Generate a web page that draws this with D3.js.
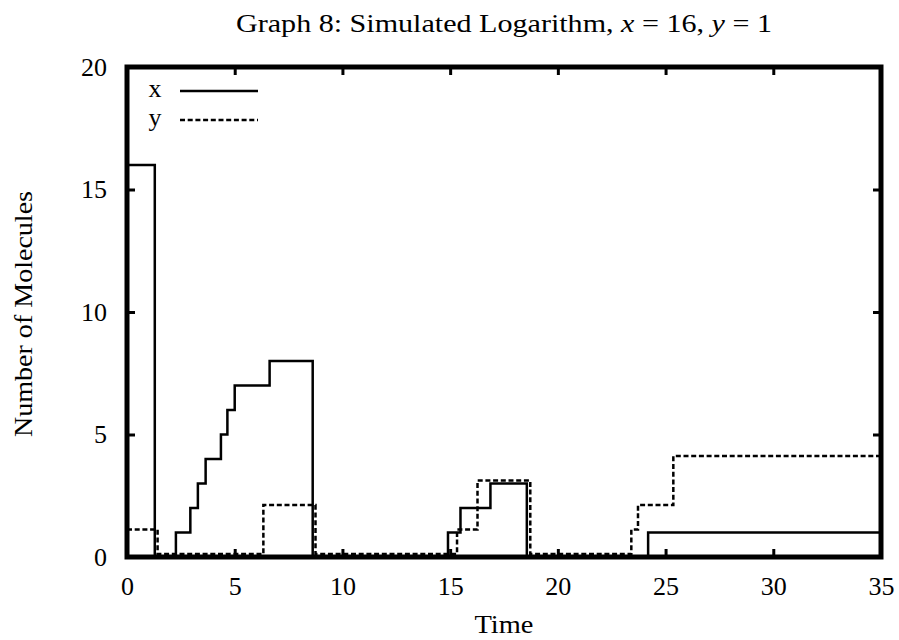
<!DOCTYPE html>
<html>
<head>
<meta charset="utf-8">
<script src="https://cdn.jsdelivr.net/npm/d3@7"></script>
<style>
  body { margin: 0; background: #fff; }
  svg text { font-family: "Liberation Serif", "DejaVu Serif", serif; fill: #000; }
</style>
</head>
<body>
<div id="chart"></div>
<script>
// step data: time at which each count starts
const xTimes = [0, 1.29, 2.27, 2.94, 3.29, 3.65, 4.36, 4.66, 5.0, 6.62, 8.62, 14.9, 15.48, 16.87, 18.56, 24.19, 35];
const xCounts = [16, 0, 1, 2, 3, 4, 5, 6, 7, 8, 0, 1, 2, 3, 0, 1, 1];

const yTimes = [0, 1.42, 6.33, 8.75, 15.32, 16.27, 18.72, 23.41, 23.72, 25.36, 35];
const yCounts = [1, 0, 2, 0, 1, 3, 0, 1, 2, 4, 4];

const xTicks = [0, 5, 10, 15, 20, 25, 30, 35];
const yTicks = [0, 5, 10, 15, 20];

let width = 899;
let height = 640;
let margin = { top: 67, right: 18, bottom: 83, left: 127 };

let svg = d3.select("#chart")
  .append("svg")
  .attr("width", width)
  .attr("height", height);

let x = d3.scaleLinear().domain([0, 35]).range([margin.left, width - margin.right]);
let y = d3.scaleLinear().domain([0, 20]).range([height - margin.bottom, margin.top]);

// the y series is drawn a little above the x series so both stay visible
const yOffset = 0.12;

let fontSize = 26;
let midX = (x(0) + x(35)) / 2;

// title
let title = svg.append("text")
  .attr("x", midX)
  .attr("y", 32)
  .attr("text-anchor", "middle")
  .attr("textLength", 536)
  .attr("lengthAdjust", "spacingAndGlyphs")
  .style("font-size", fontSize + "px");
title.append("tspan").text("Graph 8: Simulated Logarithm, ");
title.append("tspan").style("font-style", "italic").text("x");
title.append("tspan").text(" = 16, ");
title.append("tspan").style("font-style", "italic").text("y");
title.append("tspan").text(" = 1");

// axis labels
svg.append("text")
  .attr("x", midX)
  .attr("y", 633)
  .attr("text-anchor", "middle")
  .attr("textLength", 59)
  .attr("lengthAdjust", "spacingAndGlyphs")
  .style("font-size", fontSize + "px")
  .text("Time");

svg.append("text")
  .attr("transform", "translate(32," + 314 + ") rotate(-90)")
  .attr("text-anchor", "middle")
  .attr("textLength", 246)
  .attr("lengthAdjust", "spacingAndGlyphs")
  .style("font-size", fontSize + "px")
  .text("Number of Molecules");

// axes with inward ticks, mirrored on the opposite sides
let tickLen = 8;
let bottomAxis = d3.axisBottom(x).tickValues(xTicks).tickSize(-tickLen).tickPadding(20);
let leftAxis = d3.axisLeft(y).tickValues(yTicks).tickSize(-tickLen).tickPadding(20);
let topAxis = d3.axisTop(x).tickValues(xTicks).tickSize(-tickLen).tickFormat("");
let rightAxis = d3.axisRight(y).tickValues(yTicks).tickSize(-tickLen).tickFormat("");

function styleAxis(g) {
  g.select(".domain").remove();
  g.selectAll(".tick line").attr("stroke", "#000").attr("stroke-width", 3);
  g.selectAll(".tick text").style("font-size", fontSize + "px").attr("fill", "#000");
}

svg.append("g").attr("transform", "translate(0," + y(0) + ")").call(bottomAxis).call(styleAxis);
svg.append("g").attr("transform", "translate(" + x(0) + ",0)").call(leftAxis).call(styleAxis);
svg.append("g").attr("transform", "translate(0," + y(20) + ")").call(topAxis).call(styleAxis);
svg.append("g").attr("transform", "translate(" + x(35) + ",0)").call(rightAxis).call(styleAxis);

svg.selectAll(".tick text").attr("font-family", null);

// step lines
let stepLine = d3.line()
  .x(d => x(d[0]))
  .y(d => y(d[1]))
  .curve(d3.curveStepAfter);

let xData = xTimes.map((t, i) => [t, xCounts[i]]);
let yData = yTimes.map((t, i) => [t, yCounts[i] + yOffset]);

svg.append("path")
  .datum(xData)
  .attr("d", stepLine)
  .attr("fill", "none")
  .attr("stroke", "#000")
  .attr("stroke-width", 2.5);

svg.append("path")
  .datum(yData)
  .attr("d", stepLine)
  .attr("fill", "none")
  .attr("stroke", "#000")
  .attr("stroke-width", 2.5)
  .attr("stroke-dasharray", "5,2.7");

// frame
svg.append("rect")
  .attr("x", x(0))
  .attr("y", y(20))
  .attr("width", x(35) - x(0))
  .attr("height", y(0) - y(20))
  .attr("fill", "none")
  .attr("stroke", "#000")
  .attr("stroke-width", 5);

// legend
let legend = [
  { name: "x", dash: null, ly: 91 },
  { name: "y", dash: "5,2.7", ly: 120 }
];
legend.forEach(d => {
  svg.append("text")
    .attr("x", 155)
    .attr("y", d.ly + 6)
    .attr("text-anchor", "middle")
    .style("font-size", fontSize + "px")
    .text(d.name);
  svg.append("line")
    .attr("x1", 180)
    .attr("x2", 258)
    .attr("y1", d.ly)
    .attr("y2", d.ly)
    .attr("stroke", "#000")
    .attr("stroke-width", 2.5)
    .attr("stroke-dasharray", d.dash);
});
</script>
</body>
</html>
